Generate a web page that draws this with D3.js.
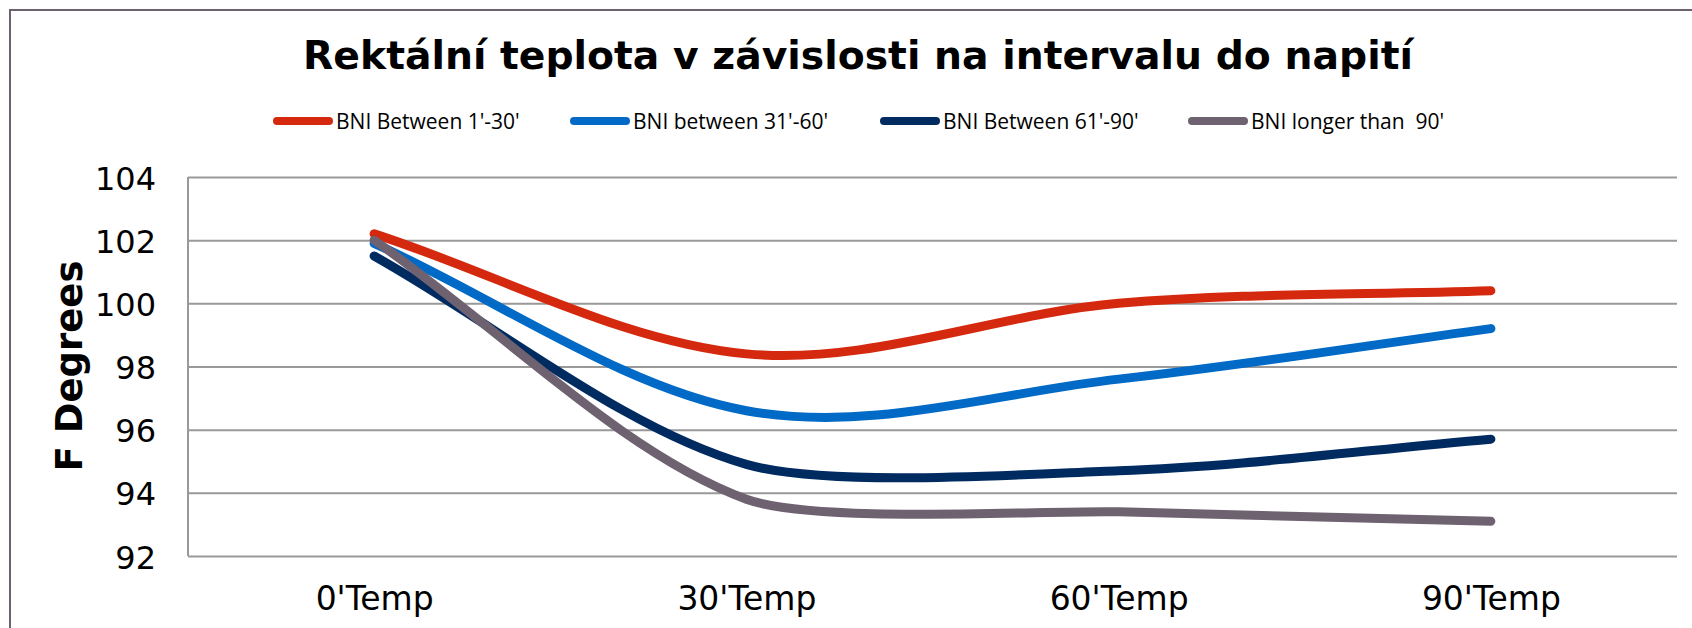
<!DOCTYPE html>
<html>
<head>
<meta charset="utf-8">
<script src="https://cdn.jsdelivr.net/npm/d3@7"></script>
<style>
  html, body { margin: 0; padding: 0; background: #fff; }
  svg { display: block; }
  text { white-space: pre; }
</style>
</head>
<body>
<svg id="chart" width="1692" height="628"></svg>
<script>
const categories = ["0'Temp", "30'Temp", "60'Temp", "90'Temp"];
const seriesNames = ["BNI Between 1'-30'", "BNI between 31'-60'", "BNI Between 61'-90'", "BNI longer than  90'"];
const seriesColors = ["#d4290e", "#006ac6", "#002b61", "#6e6170"];
const bni1to30 = [102.2, 98.4, 100.0, 100.4];
const bni31to60 = [101.9, 96.6, 97.6, 99.2];
const bni61to90 = [101.5, 94.9, 94.7, 95.7];
const bniOver90 = [102.0, 93.8, 93.4, 93.1];
const yTicks = [92, 94, 96, 98, 100, 102, 104];
const titleText = "Rektální teplota v závislosti na intervalu do napití";
const yTitle = "F Degrees";

const seriesValues = [bni1to30, bni31to60, bni61to90, bniOver90];

// Spreadsheet-style smoothed line (Bezier with limited control points)
function SmoothCurve(context) { this._context = context; }
SmoothCurve.prototype = {
  areaStart() { this._line = 0; },
  areaEnd() { this._line = NaN; },
  lineStart() { this._pts = []; },
  point(px, py) { this._pts.push([+px, +py]); },
  lineEnd() {
    const p = this._pts, c = this._context, n = p.length;
    if (!n) return;
    c.moveTo(p[0][0], p[0][1]);
    const W = 7;
    const dist = (a, b) => Math.hypot(b[0] - a[0], (b[1] - a[1]) * W);
    for (let i = 0; i < n - 1; i++) {
      const p0 = p[Math.max(i - 1, 0)], p1 = p[i], p2 = p[i + 1], p3 = p[Math.min(i + 2, n - 1)];
      const d12 = dist(p1, p2), d02 = dist(p0, p2), d13 = dist(p1, p3);
      let f1, f2;
      const lim02 = d02 / 6 >= d12 / 2, lim13 = d13 / 6 >= d12 / 2;
      if (!lim02 && !lim13) {
        f1 = (i === 0) ? 1 / 3 : 1 / 6;
        f2 = (i + 2 > n - 1) ? 1 / 3 : 1 / 6;
      } else if (lim02 && lim13) {
        f1 = d12 / 2 / d02; f2 = d12 / 2 / d13;
      } else if (lim02) {
        f1 = d12 / 2 / d02; f2 = d12 / 2 / d02;
      } else {
        f1 = d12 / 2 / d13; f2 = d12 / 2 / d13;
      }
      const b1x = p1[0] + (p2[0] - p0[0]) * f1, b1y = p1[1] + (p2[1] - p0[1]) * f1;
      const b2x = p2[0] - (p3[0] - p1[0]) * f2, b2y = p2[1] - (p3[1] - p1[1]) * f2;
      c.bezierCurveTo(b1x, b1y, b2x, b2y, p2[0], p2[1]);
    }
  }
};
const curveSmooth = ctx => new SmoothCurve(ctx);

const svg = d3.select("#chart");
const plot = { left: 188, right: 1677, top: 177, bottom: 556 };

// outer chart border (extends beyond right/bottom edges)
svg.append("rect")
  .attr("x", 10).attr("y", 10)
  .attr("width", 1700).attr("height", 700)
  .attr("fill", "#fff")
  .attr("stroke", "#6b6170").attr("stroke-width", 2);

const x = d3.scalePoint().domain(categories).range([plot.left, plot.right]).padding(0.5);
const y = d3.scaleLinear().domain([92, 104]).range([plot.bottom, plot.top]);

// title
svg.append("text")
  .attr("x", 858).attr("y", 69)
  .attr("text-anchor", "middle")
  .attr("font-family", "DejaVu Sans, Verdana, sans-serif")
  .attr("font-weight", "bold")
  .attr("font-size", 39.3)
  .attr("fill", "#000")
  .text(titleText);

// legend
const legendX = [273, 570, 880, 1188];
const legend = svg.append("g");
seriesNames.forEach((name, i) => {
  const g = legend.append("g").attr("transform", `translate(${legendX[i]},121)`);
  g.append("line")
    .attr("x1", 4).attr("x2", 56).attr("y1", 0).attr("y2", 0)
    .attr("stroke", seriesColors[i]).attr("stroke-width", 8).attr("stroke-linecap", "round");
  g.append("text")
    .attr("x", 63).attr("y", 8)
    .attr("xml:space", "preserve")
    .attr("font-family", "Open Sans, Liberation Sans, sans-serif")
    .attr("font-size", 21)
    .attr("fill", "#000")
    .text(name);
});

// y axis with gridlines
const yAxis = d3.axisLeft(y).tickValues(yTicks).tickSize(-(plot.right - plot.left)).tickPadding(32).tickFormat(d3.format("d"));
const yg = svg.append("g").attr("transform", `translate(${plot.left},0)`).call(yAxis);
yg.select(".domain").attr("stroke", "#999").attr("stroke-width", 2).attr("d", `M0,${plot.top}V${plot.bottom}`);
yg.selectAll(".tick line").attr("stroke", "#999").attr("stroke-width", 2);
yg.selectAll(".tick text")
  .attr("font-family", "DejaVu Sans, Verdana, sans-serif")
  .attr("font-size", 32)
  .attr("fill", "#000")
  .attr("dy", 12);

// x axis labels
const xAxis = d3.axisBottom(x).tickSize(0).tickPadding(0);
const xg = svg.append("g").attr("transform", `translate(0,${plot.bottom})`).call(xAxis);
xg.select(".domain").remove();
xg.selectAll(".tick text")
  .attr("font-family", "DejaVu Sans, Verdana, sans-serif")
  .attr("font-size", 33)
  .attr("fill", "#000")
  .attr("y", 54).attr("dy", 0);

// y axis title
svg.append("text")
  .attr("transform", "translate(82,366) rotate(-90)")
  .attr("text-anchor", "middle")
  .attr("font-family", "DejaVu Sans, Verdana, sans-serif")
  .attr("font-weight", "bold")
  .attr("font-size", 37)
  .attr("fill", "#000")
  .text(yTitle);

// lines (smoothed)
const line = d3.line()
  .x((d, i) => x(categories[i]))
  .y(d => y(d))
  .curve(curveSmooth);

seriesValues.forEach((vals, i) => {
  svg.append("path")
    .datum(vals)
    .attr("d", line)
    .attr("fill", "none")
    .attr("stroke", seriesColors[i])
    .attr("stroke-width", 9)
    .attr("stroke-linecap", "round")
    .attr("stroke-linejoin", "round");
});
</script>
</body>
</html>
